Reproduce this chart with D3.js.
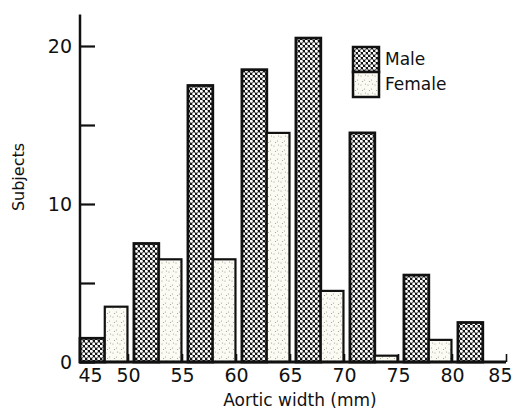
<!DOCTYPE html>
<html>
<head>
<meta charset="utf-8">
<script src="https://cdn.jsdelivr.net/npm/d3@7"></script>
<style>
  body { margin: 0; background: #fff; }
  text { font-family: "DejaVu Sans", sans-serif; fill: #111; }
</style>
</head>
<body>
<div id="chart"></div>
<script>
// bin starts (mm) and counts
const binStarts = [45, 50, 55, 60, 65, 70, 75, 80];
const maleCounts = [1.5, 7.5, 17.5, 18.5, 20.5, 14.5, 5.5, 2.5];
const femaleCounts = [3.5, 6.5, 6.5, 14.5, 4.5, 0.4, 1.4, 0];
const xTicks = [45, 50, 55, 60, 65, 70, 75, 80, 85];
const yTicks = [0, 5, 10, 15, 20];
const yLabels = [0, 10, 20];
const seriesNames = ["Male", "Female"];

const W = 513, H = 413;
const svg = d3.select("#chart").append("svg")
    .attr("width", W)
    .attr("height", H);

// fill patterns
const defs = svg.append("defs");
const pm = defs.append("pattern")
    .attr("id", "male")
    .attr("patternUnits", "userSpaceOnUse")
    .attr("width", 5).attr("height", 5);
pm.append("rect").attr("width", 5).attr("height", 5).attr("fill", "#161616");
pm.append("circle").attr("cx", 1.25).attr("cy", 1.25).attr("r", 1.55).attr("fill", "#fff");
pm.append("circle").attr("cx", 3.75).attr("cy", 3.75).attr("r", 1.55).attr("fill", "#fff");

const pf = defs.append("pattern")
    .attr("id", "female")
    .attr("patternUnits", "userSpaceOnUse")
    .attr("width", 7).attr("height", 9);
pf.append("rect").attr("width", 7).attr("height", 9).attr("fill", "#fbfbf4");
[[1, 2], [4.5, 6], [2.5, 7.5], [5.5, 1]].forEach(p => {
    pf.append("circle").attr("cx", p[0]).attr("cy", p[1]).attr("r", 0.6).attr("fill", "#9a9a90");
});

const x = d3.scaleLinear().domain([45, 85]).range([74, 506]);
const y = d3.scaleLinear().domain([0, 20]).range([362, 46]);
const axisX = 80;

const bins = binStarts.map((s, i) => ({ s: s, male: maleCounts[i], female: femaleCounts[i] }));
const bw = x(50) - x(45);

// male bars
svg.append("g").selectAll("rect")
    .data(bins)
    .join("rect")
    .attr("x", d => Math.max(x(d.s) + 0.11 * bw, axisX))
    .attr("width", d => x(d.s) + 0.57 * bw - Math.max(x(d.s) + 0.11 * bw, axisX))
    .attr("y", d => y(d.male))
    .attr("height", d => y(0) - y(d.male))
    .attr("fill", "url(#male)")
    .attr("stroke", "#111")
    .attr("stroke-width", 2.8);

// female bars
svg.append("g").selectAll("rect")
    .data(bins.filter(d => d.female > 0))
    .join("rect")
    .attr("x", d => x(d.s) + 0.57 * bw)
    .attr("width", 0.42 * bw)
    .attr("y", d => y(d.female))
    .attr("height", d => y(0) - y(d.female))
    .attr("fill", "url(#female)")
    .attr("stroke", "#111")
    .attr("stroke-width", 2.2);

// y axis
const gy = svg.append("g")
    .attr("transform", `translate(${axisX},0)`)
    .call(d3.axisLeft(y).tickValues(yTicks).tickSizeInner(-15).tickSizeOuter(0).tickPadding(8)
        .tickFormat(d => yLabels.includes(d) ? d : ""));
gy.select(".domain").remove();
gy.selectAll(".tick line").attr("stroke", "#111").attr("stroke-width", 2.2);
gy.selectAll(".tick text").attr("font-size", 19).attr("fill", "#111")
    .attr("font-family", "DejaVu Sans");
gy.append("line")
    .attr("x1", 0).attr("x2", 0)
    .attr("y1", y(22)).attr("y2", y(0) + 1)
    .attr("stroke", "#111").attr("stroke-width", 2.5);

// x axis
const gx = svg.append("g")
    .attr("transform", `translate(0,${y(0)})`)
    .call(d3.axisBottom(x).tickValues(xTicks).tickSizeInner(-8).tickSizeOuter(0).tickPadding(7));
gx.select(".domain").remove();
gx.selectAll(".tick line").attr("stroke", "#111").attr("stroke-width", 1.6);
gx.selectAll(".tick text").attr("font-size", 19).attr("fill", "#111")
    .attr("font-family", "DejaVu Sans");
gx.selectAll(".tick").filter(d => d === 45).each(function () {
    d3.select(this).select("line").remove();
    d3.select(this).select("text").attr("x", 16);
});
gx.selectAll(".tick").filter(d => d === 85).select("text")
    .attr("text-anchor", "end").attr("x", 512 - x(85));
gx.append("line")
    .attr("x1", axisX - 1).attr("x2", x(85))
    .attr("y1", 0).attr("y2", 0)
    .attr("stroke", "#111").attr("stroke-width", 2.8);

// axis titles
svg.append("text")
    .attr("x", 300).attr("y", 406)
    .attr("text-anchor", "middle")
    .attr("font-size", 17)
    .text("Aortic width (mm)");

svg.append("text")
    .attr("transform", "translate(24,177) rotate(-90)")
    .attr("text-anchor", "middle")
    .attr("font-family", "'Open Sans', sans-serif")
    .attr("font-size", 16)
    .text("Subjects");

// legend
const legend = svg.append("g").attr("transform", "translate(353,47)");
seriesNames.forEach((name, i) => {
    legend.append("rect")
        .attr("x", 0).attr("y", i * 25)
        .attr("width", 26).attr("height", 25)
        .attr("fill", i === 0 ? "url(#male)" : "url(#female)")
        .attr("stroke", "#111")
        .attr("stroke-width", 2.5);
    legend.append("text")
        .attr("x", 32).attr("y", i * 25 + 12.5)
        .attr("dy", "0.35em")
        .attr("font-size", 17)
        .text(name);
});
</script>
</body>
</html>
